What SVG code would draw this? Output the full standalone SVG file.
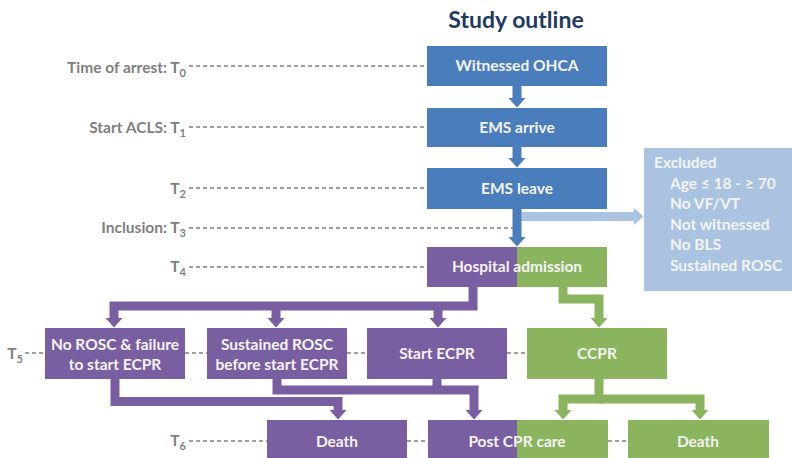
<svg xmlns="http://www.w3.org/2000/svg" width="792" height="458" viewBox="0 0 792 458">
<style>
text{font-family:Lato,"Liberation Sans",sans-serif;font-weight:bold}
.lbl{fill:#7f7f7f;font-size:15.5px;text-anchor:end}
.sub{font-size:11px}
.bt{fill:#f4f4f4;font-size:15.5px;text-anchor:middle}
.ex{fill:#f4f4f4;font-size:15.5px}
.blue{fill:#4a7dbb}
.pur{fill:#7a5ea2}
.grn{fill:#8bb45e}
.lb{fill:#a9c3e0}
.dash{stroke:#808080;stroke-width:1.5;stroke-dasharray:4 3;fill:none}
.cb{stroke:#4a7dbb;stroke-width:9;fill:none}
.cp{stroke:#7a5ea2;stroke-width:9;fill:none;stroke-linejoin:miter}
.cg{stroke:#8bb45e;stroke-width:9;fill:none;stroke-linejoin:miter}
.cl{stroke:#a9c3e0;stroke-width:9;fill:none}
</style>
<defs>
<marker id="ab" viewBox="0 0 10 18" refX="0.5" refY="9" markerWidth="10" markerHeight="18" markerUnits="userSpaceOnUse" orient="auto"><path d="M0,0 L10,9 L0,18 z" fill="#4a7dbb"/></marker>
<marker id="ap" viewBox="0 0 10 18" refX="0.5" refY="9" markerWidth="10" markerHeight="18" markerUnits="userSpaceOnUse" orient="auto"><path d="M0,0 L10,9 L0,18 z" fill="#7a5ea2"/></marker>
<marker id="ag" viewBox="0 0 10 18" refX="0.5" refY="9" markerWidth="10" markerHeight="18" markerUnits="userSpaceOnUse" orient="auto"><path d="M0,0 L10,9 L0,18 z" fill="#8bb45e"/></marker>
<marker id="al" viewBox="0 0 10 18" refX="0.5" refY="9" markerWidth="10" markerHeight="18" markerUnits="userSpaceOnUse" orient="auto"><path d="M0,0 L10,9 L0,18 z" fill="#a9c3e0"/></marker>
</defs>

<text x="516" y="28" text-anchor="middle" style="font-size:23px;fill:#1f3a60">Study outline</text>

<g id="timeline">
<text class="lbl" x="186" y="73">Time of arrest: T<tspan class="sub" dy="4">0</tspan></text>
<text class="lbl" x="186" y="133">Start ACLS: T<tspan class="sub" dy="4">1</tspan></text>
<text class="lbl" x="186" y="194">T<tspan class="sub" dy="4">2</tspan></text>
<text class="lbl" x="186" y="233">Inclusion: T<tspan class="sub" dy="4">3</tspan></text>
<text class="lbl" x="186" y="272">T<tspan class="sub" dy="4">4</tspan></text>
<text class="lbl" x="23" y="359">T<tspan class="sub" dy="4">5</tspan></text>
<text class="lbl" x="186" y="446">T<tspan class="sub" dy="4">6</tspan></text>
<path class="dash" d="M189,66 H427 M189,127 H427 M189,188 H427 M189,228 H514 M189,267 H427 M25,353 H45 M185,353 H207 M347,353 H367 M507,353 H527 M189,441 H267 M407,441 H428 M608,441 H628"/>
</g>

<g id="connectors">
<path class="cl" d="M521,216.5 H634" marker-end="url(#al)"/>
<path class="cb" d="M517,86 V98" marker-end="url(#ab)"/>
<path class="cb" d="M517,147 V158" marker-end="url(#ab)"/>
<path class="cb" d="M517,209 V237" marker-end="url(#ab)"/>
<path class="cp" d="M473,287 V306 H114 V318" marker-end="url(#ap)"/>
<path class="cp" d="M276,306 V318" marker-end="url(#ap)"/>
<path class="cp" d="M438,306 V318" marker-end="url(#ap)"/>
<path class="cg" d="M563,287 V299 H599 V318" marker-end="url(#ag)"/>
<path class="cp" d="M115,379 V401.5 H338 V410" marker-end="url(#ap)"/>
<path class="cp" d="M277,379 V390 H474 V410" marker-end="url(#ap)"/>
<path class="cp" d="M437,379 V390"/>
<path class="cg" d="M599,379 V399 H563 V410" marker-end="url(#ag)"/>
<path class="cg" d="M599,399 H700 V410" marker-end="url(#ag)"/>
</g>

<g id="witnessed-ohca"><rect class="blue" x="427" y="46" width="180" height="40"/><text class="bt" x="517" y="71">Witnessed OHCA</text></g>
<g id="ems-arrive"><rect class="blue" x="427" y="108" width="180" height="39"/><text class="bt" x="517" y="133">EMS arrive</text></g>
<g id="ems-leave"><rect class="blue" x="427" y="168" width="180" height="41"/><text class="bt" x="517" y="194">EMS leave</text></g>

<g id="excluded"><rect class="lb" x="644" y="148" width="148" height="143"/>
<text class="ex" x="654" y="168">Excluded</text>
<text class="ex" x="670" y="189">Age ≤ 18 - ≥ 70</text>
<text class="ex" x="670" y="209">No VF/VT</text>
<text class="ex" x="670" y="230">Not witnessed</text>
<text class="ex" x="670" y="250">No BLS</text>
<text class="ex" x="670" y="271">Sustained ROSC</text>
</g>

<g id="hospital-admission"><rect class="pur" x="427" y="247" width="90" height="40"/><rect class="grn" x="517" y="247" width="90" height="40"/><text class="bt" x="517" y="272">Hospital admission</text></g>

<g id="no-rosc"><rect class="pur" x="45" y="328" width="140" height="51"/><text class="bt" x="115" y="349.5">No ROSC &amp; failure</text><text class="bt" x="115" y="370">to start ECPR</text></g>
<g id="sustained-rosc"><rect class="pur" x="207" y="328" width="140" height="51"/><text class="bt" x="277" y="349.5">Sustained ROSC</text><text class="bt" x="277" y="370">before start ECPR</text></g>
<g id="start-ecpr"><rect class="pur" x="367" y="328" width="140" height="51"/><text class="bt" x="437" y="359">Start ECPR</text></g>
<g id="ccpr"><rect class="grn" x="527" y="328" width="140" height="51"/><text class="bt" x="597" y="359">CCPR</text></g>

<g id="death-ecpr"><rect class="pur" x="267" y="420" width="140" height="40"/><text class="bt" x="337" y="447">Death</text></g>
<g id="post-cpr-care"><rect class="pur" x="428" y="420" width="89" height="40"/><rect class="grn" x="517" y="420" width="91" height="40"/><text class="bt" x="517" y="447">Post CPR care</text></g>
<g id="death-ccpr"><rect class="grn" x="628" y="420" width="141" height="40"/><text class="bt" x="698" y="447">Death</text></g>
</svg>
